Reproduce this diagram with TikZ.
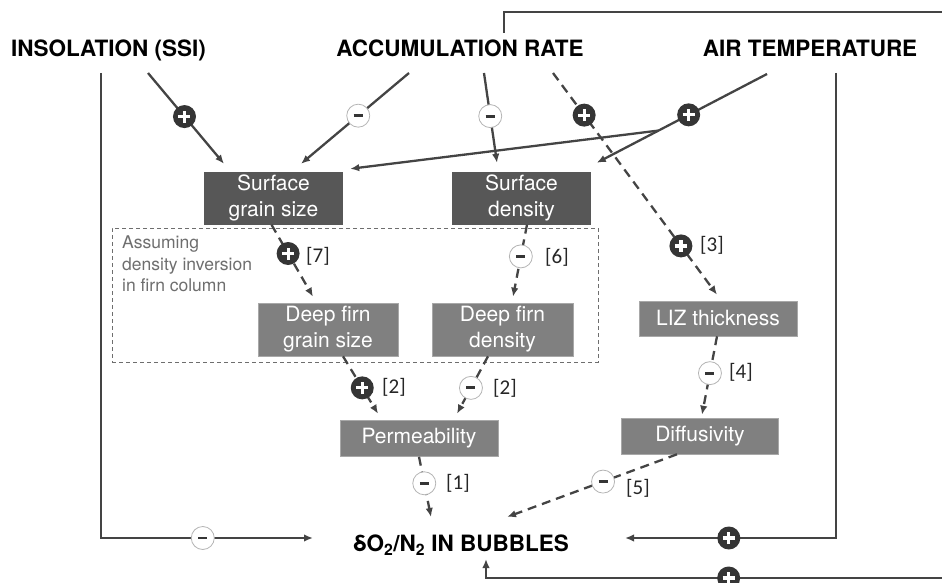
\documentclass[tikz,border=0pt]{standalone}
\usepackage{fontspec}
\setmainfont{TeX Gyre Heros}
\newfontfamily\calibri{Carlito}
\usetikzlibrary{arrows.meta}

\definecolor{linecol}{HTML}{444444}
\definecolor{boxdark}{HTML}{575757}
\definecolor{boxlight}{HTML}{808080}
\definecolor{boxedge}{HTML}{A8A8A8}
\definecolor{signdark}{HTML}{353535}
\definecolor{minusedge}{HTML}{B4B4B4}
\definecolor{groupcol}{HTML}{6E6E6E}

\tikzset{
    factor/.style={font=\bfseries\fontsize{22.5}{27}\selectfont, inner sep=0pt, anchor=base},
    darkbox/.style={fill=boxdark, text=white, font=\fontsize{21}{26}\selectfont, align=center, inner sep=0pt},
    lightbox/.style={fill=boxlight, draw=boxedge, line width=0.6pt, text=white, font=\fontsize{21}{26}\selectfont, align=center, inner sep=0pt},
    conn/.style={draw=linecol, line width=2.3pt, -{Latex[length=9pt,width=7.5pt]}},
    dconn/.style={conn, dash pattern=on 9pt off 6pt},
    sgnplus/.style={circle, solid, fill=signdark, minimum size=23pt, inner sep=0pt,
        path picture={\draw[white, solid, arrows=-, line width=3.2pt]
            ([xshift=-6pt]path picture bounding box.center) -- ([xshift=6pt]path picture bounding box.center)
            ([yshift=-6pt]path picture bounding box.center) -- ([yshift=6pt]path picture bounding box.center);}},
    sgnminus/.style={circle, solid, fill=white, draw=minusedge, line width=0.8pt, minimum size=23pt, inner sep=0pt,
        path picture={\draw[signdark, solid, arrows=-, line width=2.8pt]
            ([xshift=-4.5pt]path picture bounding box.center) -- ([xshift=4.5pt]path picture bounding box.center);}},
    reflabel/.style={font=\calibri\fontsize{21}{24}\selectfont, text=black!85, anchor=west, inner sep=0pt},
    groupbox/.style={draw=groupcol, dash pattern=on 4pt off 3pt, line width=1pt},
    grouptext/.style={font=\fontsize{17.5}{21.5}\selectfont, text=groupcol, align=left, anchor=north west, inner sep=0pt}
}

\begin{document}
\begin{tikzpicture}[x=1pt,y=-1pt]
    \useasboundingbox (0,0) rectangle (942,583);

    \node[factor] (insol) at (108.5,57) {INSOLATION (SSI)};
    \node[factor] (acc) at (460,57) {ACCUMULATION RATE};
    \node[factor] (air) at (810,57) {AIR TEMPERATURE};
    \node[factor] (bub) at (461,551) {δO\textsubscript{2}/N\textsubscript{2} IN BUBBLES};

    \node[groupbox, minimum width=486pt, minimum height=134pt] (inv) at (355,295) {};
    \node[grouptext] (invtxt) at (122,236) {Assuming\\density inversion\\in firn column};

    \node[darkbox, minimum width=139pt, minimum height=53pt] (sg) at (273.5,198) {Surface\\grain size};
    \node[darkbox, minimum width=139pt, minimum height=53pt] (sd) at (521.5,198) {Surface\\density};
    \node[lightbox, minimum width=140pt, minimum height=53pt] (dg) at (328,329.5) {Deep firn\\grain size};
    \node[lightbox, minimum width=141pt, minimum height=53pt] (dd) at (502.5,329.5) {Deep firn\\density};
    \node[lightbox, minimum width=158pt, minimum height=35pt] (liz) at (718,318.5) {LIZ thickness};
    \node[lightbox, minimum width=158pt, minimum height=36pt] (perm) at (419,438.5) {Permeability};
    \node[lightbox, minimum width=157pt, minimum height=36pt] (diff) at (700,436) {Diffusivity};

    \draw[conn] ([xshift=39.5pt,yshift=-16pt]insol.base) -- node[sgnplus,pos=0.48] (p1) {} ([xshift=-49.5pt,yshift=7.5pt]sg.north);
    \draw[conn] ([xshift=-51pt,yshift=-16pt]acc.base) -- node[sgnminus,pos=0.47] (m1) {} ([xshift=27.5pt,yshift=7.5pt]sg.north);
    \draw[conn] ([xshift=24pt,yshift=-16pt]acc.base) -- node[sgnminus,pos=0.48] (m2) {} ([xshift=-24.5pt,yshift=8.5pt]sd.north);
    \draw[dconn] ([xshift=93pt,yshift=-16pt]acc.base) -- node[sgnplus,pos=0.19] (p2) {} node[sgnplus,pos=0.78] (p3) {} ([xshift=-1pt,yshift=6pt]liz.north);
    \draw[conn] ([xshift=-43pt,yshift=-17pt]air.base) -- coordinate[pos=0.637] (split) node[sgnplus,pos=0.46] (p4) {} ([xshift=5.5pt,yshift=8.5pt]sd.north east);
    \draw[conn] (split) -- ([xshift=7pt,yshift=2.5pt]sg.north east);

    \draw[conn] ([xshift=-7.5pt,yshift=-16pt]insol.base) |- node[sgnminus,pos=0.74] (m3) {} ([xshift=-148pt,yshift=13pt]bub.base);
    \draw[conn] ([xshift=26pt,yshift=-16pt]air.base) |- node[sgnplus,pos=0.754] (p5) {} ([xshift=164pt,yshift=13pt]bub.base);
    \draw[conn] ([xshift=44pt,yshift=24pt]acc.base) |- (960,12) -- (960,578) -| node[sgnplus,pos=0.244] (p6) {} ([xshift=25pt,yshift=-8pt]bub.base);

    \draw[dconn] ([xshift=-2pt]sg.south) -- node[sgnplus,pos=0.4] (p7) {} ([xshift=-15pt,yshift=6pt]dg.north);
    \draw[dconn] ([xshift=5.5pt]sd.south) -- node[sgnminus,pos=0.44] (m4) {} ([xshift=10.5pt,yshift=6pt]dd.north);
    \draw[dconn] ([xshift=15pt]dg.south) -- node[sgnplus,pos=0.55] (p8) {} ([xshift=-41pt,yshift=6.5pt]perm.north);
    \draw[dconn] ([xshift=-14.5pt]dd.south) -- node[sgnminus,pos=0.55] (m5) {} ([xshift=38pt,yshift=6.5pt]perm.north);
    \draw[dconn] ([xshift=-1pt]liz.south) -- node[sgnminus,pos=0.47] (m6) {} ([xshift=2pt,yshift=3pt]diff.north);
    \draw[dconn] (perm.south) -- node[sgnminus,pos=0.44] (m7) {} ([xshift=-30pt,yshift=34pt]bub.base);
    \draw[dconn] ([xshift=-23pt]diff.south) -- node[sgnminus,pos=0.435] (m8) {} ([xshift=46pt,yshift=34pt]bub.base);

    \node[reflabel] (r7) at (306,256) {[7]};
    \node[reflabel] (r6) at (545,257) {[6]};
    \node[reflabel] (r3) at (700,245) {[3]};
    \node[reflabel] (r2a) at (382,387) {[2]};
    \node[reflabel] (r2b) at (493,388) {[2]};
    \node[reflabel] (r4) at (729,372) {[4]};
    \node[reflabel] (r1) at (446,483) {[1]};
    \node[reflabel] (r5) at (626,488) {[5]};
\end{tikzpicture}
\end{document}
